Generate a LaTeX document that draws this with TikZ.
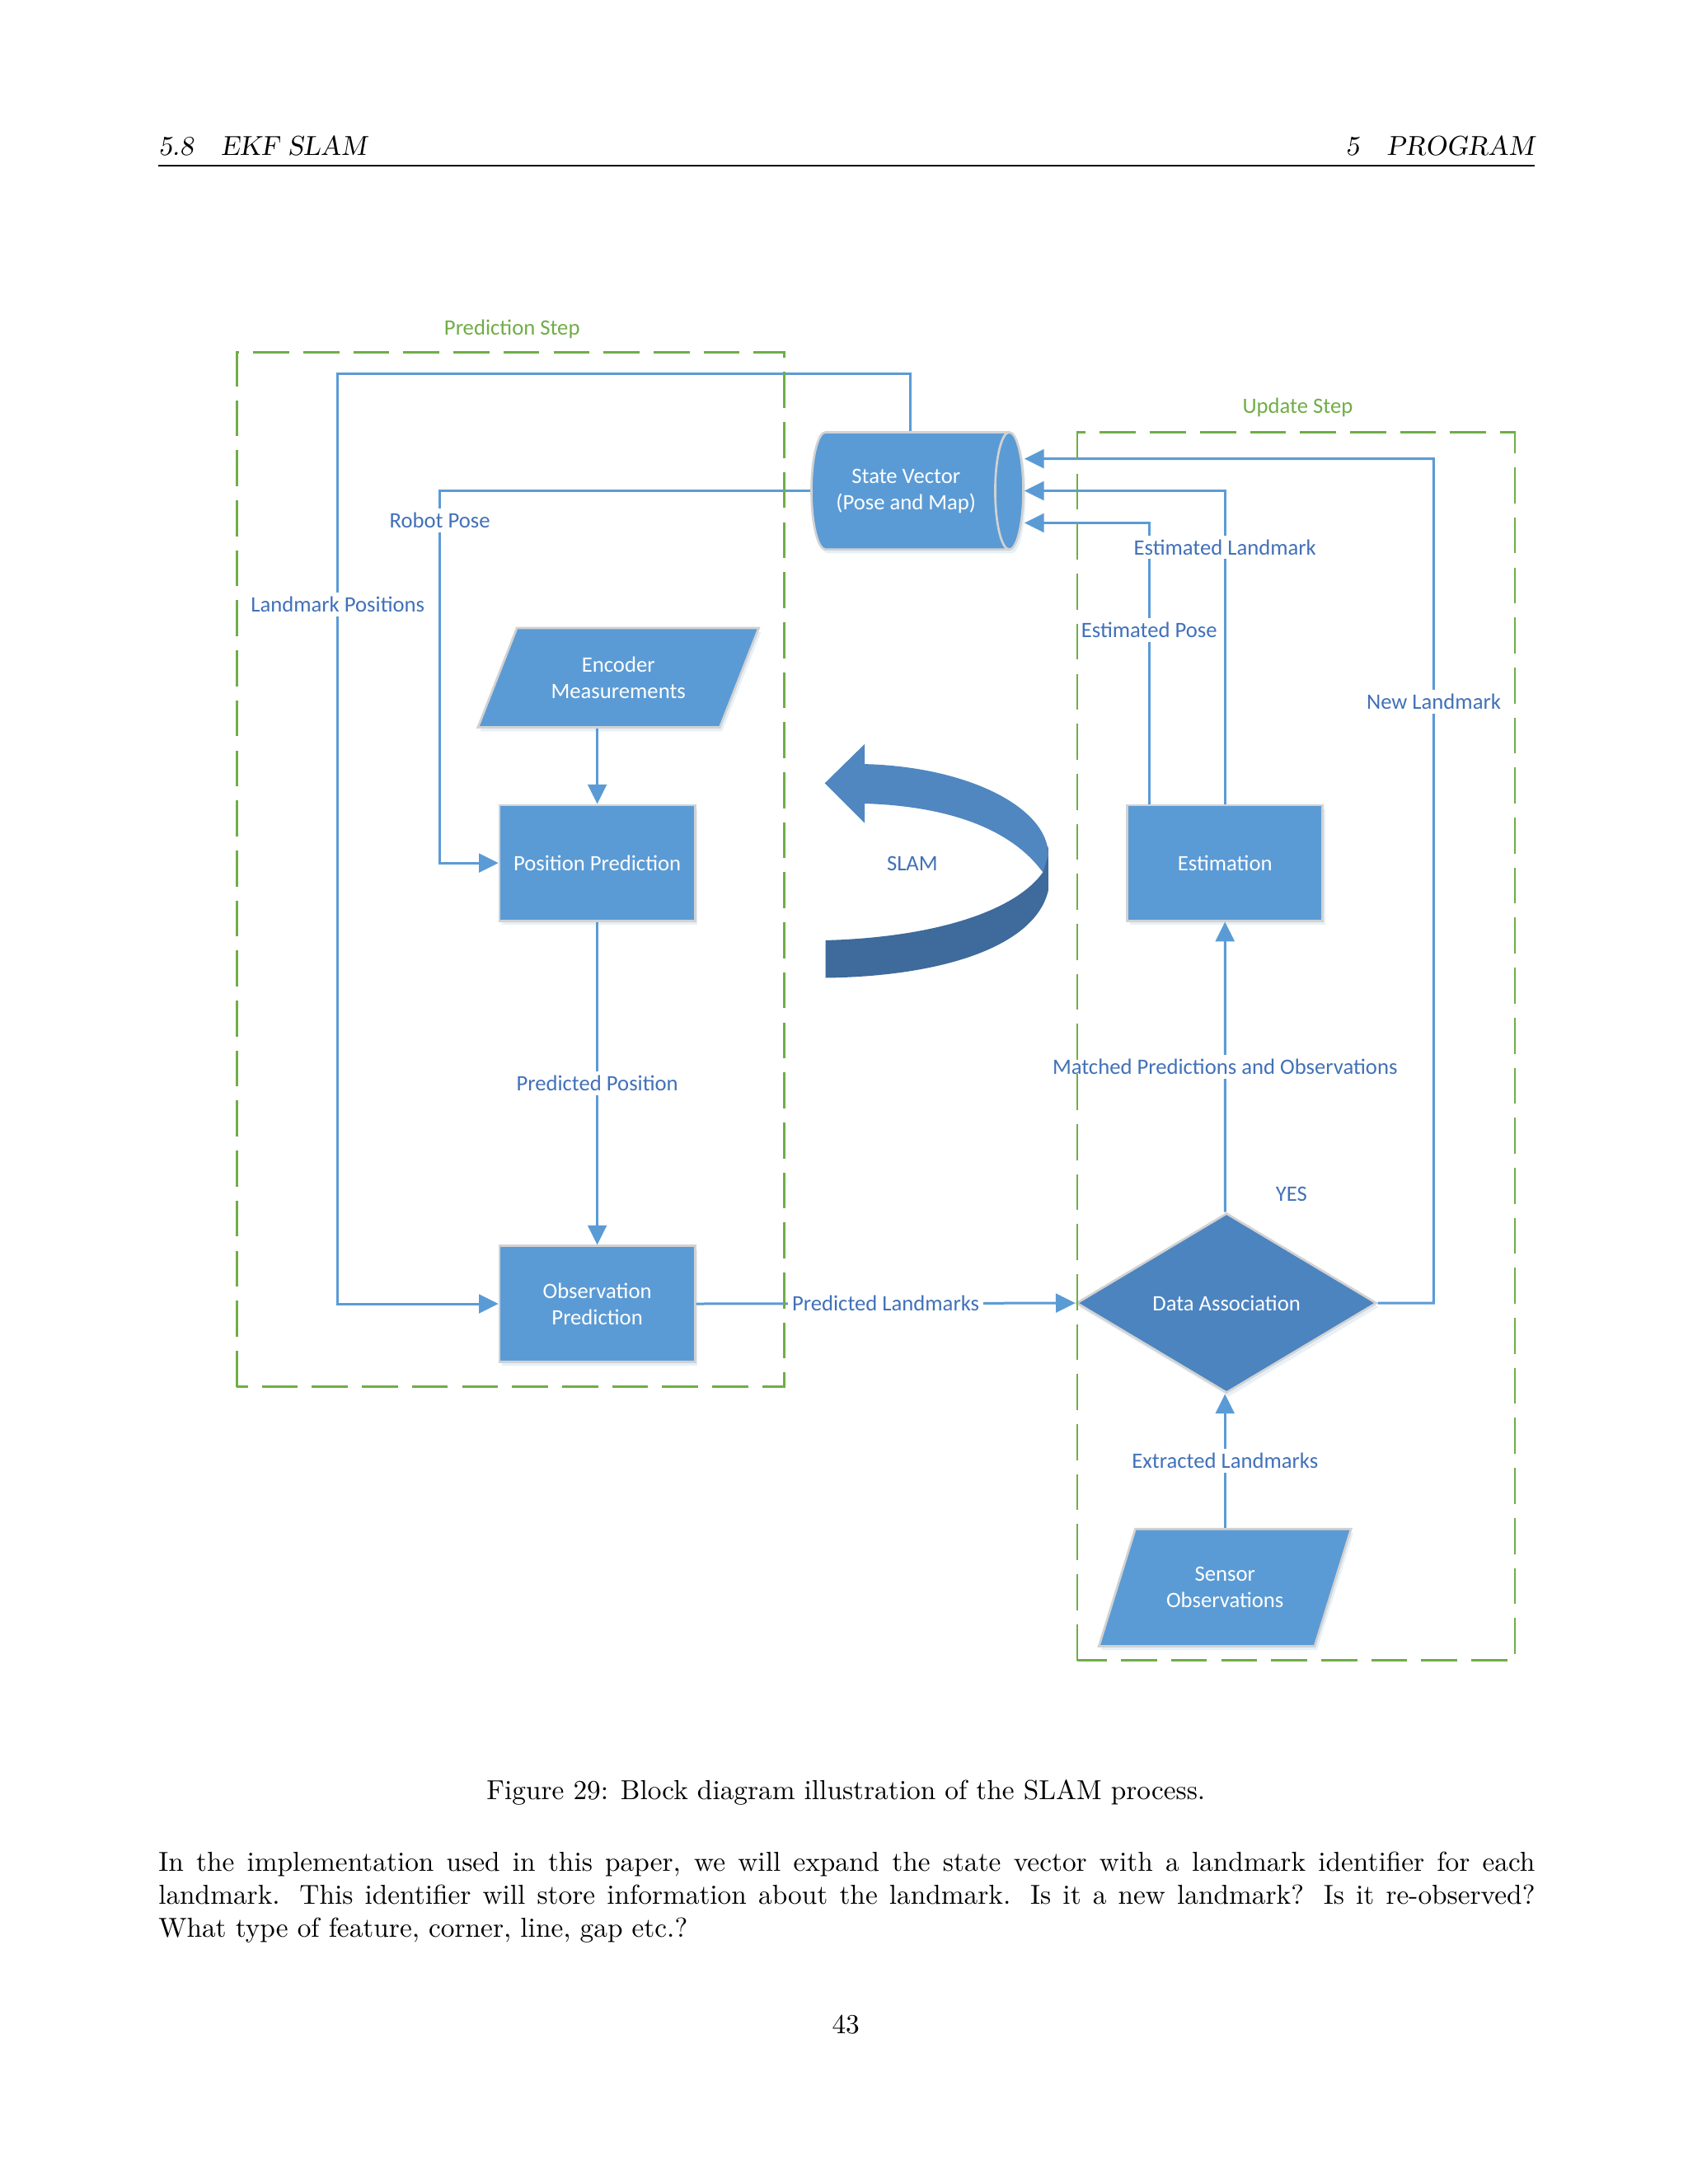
\documentclass[tikz,border=0pt]{standalone}
\usepackage{fontspec}
\newfontfamily\diagfont{Carlito}
\usetikzlibrary{shapes.geometric,arrows.meta,shadows}
\definecolor{boxblue}{RGB}{91,155,213}
\definecolor{diablue}{RGB}{76,132,192}
\definecolor{lblblue}{RGB}{65,113,185}
\definecolor{stepgreen}{RGB}{112,173,71}
\definecolor{slamlight}{RGB}{80,135,192}
\definecolor{slamdark}{RGB}{62,106,156}
\newcommand{\diagsize}{\diagfont\fontsize{8}{9.6}\selectfont}
\begin{document}
\begin{tikzpicture}[
  block/.style={rectangle,fill=boxblue,draw=gray!35,line width=.8pt,text=white,align=center,font=\diagsize,
    minimum width=2.5cm,minimum height=1.48cm,
    drop shadow={shadow xshift=.03cm,shadow yshift=-.05cm,opacity=.15,fill=boxblue}},
  iobox/.style={block,trapezium,trapezium stretches=true},
  store/.style={block,cylinder,shape border rotate=0,aspect=.45,minimum width=1.5cm,minimum height=2.71cm},
  decision/.style={block,diamond,fill=diablue,aspect=1.68,minimum width=3.84cm,minimum height=2.3cm,inner sep=0pt},
  conn/.style={draw=boxblue,line width=.9pt},
  arr/.style={conn,-{Triangle[length=.25cm,width=.24cm]}},
  lbl/.style={fill=white,text=lblblue,font=\diagsize,inner sep=1.5pt},
  stepbox/.style={draw=stepgreen,line width=.8pt,dash pattern=on .46cm off .18cm},
  steplbl/.style={text=stepgreen,font=\diagsize},
  pagetext/.style={inner sep=0pt}]
\path[use as bounding box,fill=white](0,0)rectangle(21.59,27.94);
% page head
\node[pagetext,anchor=base west,font=\slshape](headl)at(2.02,25.95){5.8\quad EKF SLAM};
\node[pagetext,anchor=base east,font=\slshape](headr)at(19.63,25.95){5\quad PROGRAM};
\draw[line width=.4pt](2.02,25.82)--(19.63,25.82);
% blocks
\node[store](sv)at(11.59,21.66){State Vector\\(Pose and Map)};
\node[iobox,trapezium left angle=64,trapezium right angle=116,minimum width=3.62cm,minimum height=1.27cm](enc)at(7.91,19.27){Encoder\\Measurements};
\node[block](pos)at(7.64,16.90){Position Prediction};
\node[block](obs)at(7.64,11.26){Observation\\Prediction};
\node[block](est)at(15.67,16.90){Estimation};
\node[decision](da)at(15.69,11.27){Data Association};
\node[iobox,trapezium left angle=65,trapezium right angle=115,minimum width=3.23cm,minimum height=1.5cm](sen)at(15.67,7.63){Sensor\\Observations};
% SLAM arrow
\fill[slamdark](13.41,17.12)--(13.41,16.55)..controls(13.25,15.85)and(12.1,15.45)..(10.56,15.43)--(10.56,15.91)..controls(12.0,15.95)and(13.0,16.3)..(13.34,16.78)--cycle;
\fill[slamlight](10.55,17.92)--(11.06,18.42)--(11.06,18.165)..controls(12.4,18.13)and(13.41,17.6)..(13.41,17.0)--(13.34,16.78)..controls(13.0,17.25)and(12.3,17.62)..(11.06,17.66)--(11.06,17.41)--cycle;
\node[lbl](slam)at(11.67,16.89){SLAM};
% connectors
\draw[arr]([xshift=.06cm]sv.north)|-(4.32,23.16)|-node[lbl,pos=.124]{Landmark Positions}(obs.west);
\draw[arr](sv.west)-|node[lbl,pos=.54]{Robot Pose}([xshift=-.75cm]pos.west)--(pos.west);
\draw[arr](pos.north|-enc.south)--(pos.north);
\draw[arr](pos.south)--node[lbl]{Predicted Position}(obs.north);
\draw[arr](obs.east)--node[lbl]{Predicted Landmarks}(da.west);
\draw[arr](sen.north)--node[lbl]{Extracted Landmarks}(sen.north|-da.south);
\draw[arr](sen.north|-da.north)--node[lbl]{Matched Predictions and Observations}(est.south);
\node[lbl](yes)at(16.52,12.66){YES};
\draw[arr](da.east)-|node[lbl,pos=.856]{New Landmark}(18.34,22.07)--([yshift=.41cm]sv.east);
\draw[arr]([xshift=-.97cm]est.north)|-node[lbl,pos=.309]{Estimated Pose}([yshift=-.41cm]sv.east);
\draw[arr](est.north)|-node[lbl,pos=.41]{Estimated Landmark}(sv.east);
% steps
\draw[stepbox](3.03,10.20)rectangle(10.03,23.43);
\node[steplbl](predstep)at(6.55,23.73){Prediction Step};
\draw[stepbox](13.78,6.70)rectangle(19.38,22.41);
\node[steplbl](updstep)at(16.60,22.73){Update Step};
% caption and text
\node[pagetext,anchor=base](cap)at(10.82,4.92){Figure 29: Block diagram illustration of the SLAM process.};
\node[pagetext,anchor=north west,text width=17.61cm,align=justify](body)at(2.02,4.26){In the implementation used in this paper, we will expand the state vector with a landmark identifier for each\linebreak landmark. This identifier will store information about the landmark. Is it a new landmark? Is it re-observed?\linebreak What type of feature, corner, line, gap etc.?};
\node[pagetext,anchor=base](pagenum)at(10.82,1.92){43};
\end{tikzpicture}
\end{document}
